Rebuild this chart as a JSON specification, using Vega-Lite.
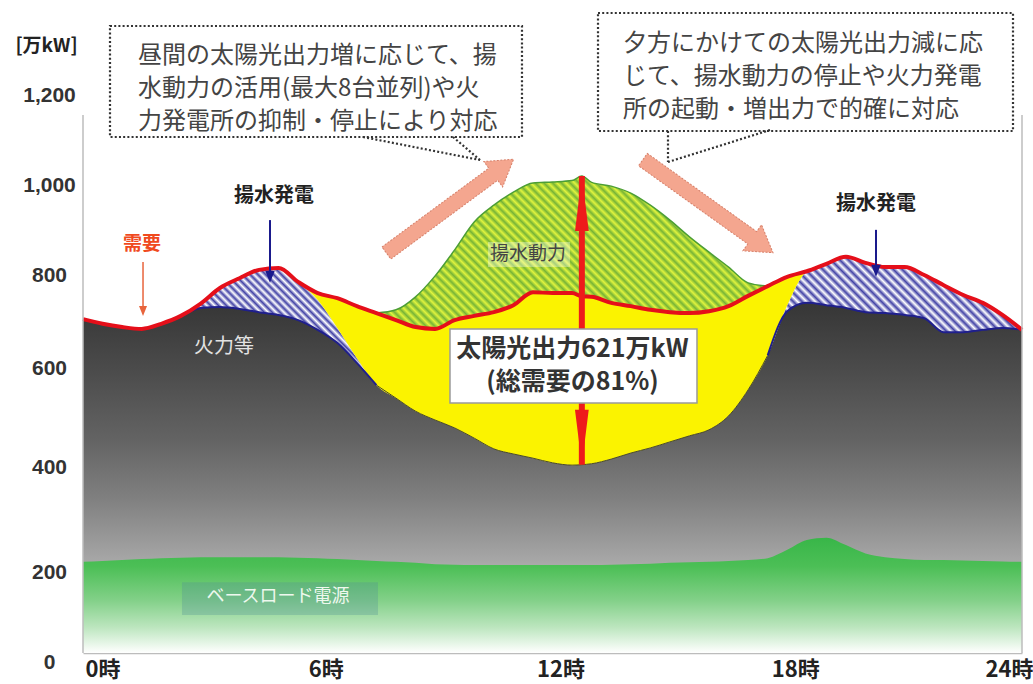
{
  "$schema": "https://vega.github.io/schema/vega-lite/v6.json",
  "width": 939,
  "height": 558,
  "autosize": {"type": "none"},
  "padding": {"left": 83, "top": 95, "right": 11, "bottom": 31},
  "background": "#ffffff",
  "config": {"view": {"stroke": null}, "font": "Noto Sans CJK JP"},
  "data": {
    "values": [
      {"h": 0, "base": 196, "thermal": 718, "pgen": 718, "demand": 718, "supply": 718},
      {"h": 0.5, "base": 198, "thermal": 708, "pgen": 708, "demand": 708, "supply": 708},
      {"h": 1, "base": 200, "thermal": 701, "pgen": 701, "demand": 701, "supply": 701},
      {"h": 1.5, "base": 202, "thermal": 697, "pgen": 697, "demand": 697, "supply": 697},
      {"h": 2, "base": 204, "thermal": 708, "pgen": 708, "demand": 708, "supply": 708},
      {"h": 2.5, "base": 205, "thermal": 725, "pgen": 725, "demand": 725, "supply": 725},
      {"h": 3, "base": 206, "thermal": 742, "pgen": 751, "demand": 751, "supply": 751},
      {"h": 3.5, "base": 206, "thermal": 744, "pgen": 785, "demand": 785, "supply": 785},
      {"h": 4, "base": 206, "thermal": 740, "pgen": 806, "demand": 806, "supply": 806},
      {"h": 4.5, "base": 206, "thermal": 733, "pgen": 824, "demand": 824, "supply": 824},
      {"h": 5, "base": 206, "thermal": 727, "pgen": 828, "demand": 828, "supply": 828},
      {"h": 5.5, "base": 205, "thermal": 716, "pgen": 798, "demand": 798, "supply": 798},
      {"h": 6, "base": 204, "thermal": 695, "pgen": 759, "demand": 774, "supply": 774},
      {"h": 6.5, "base": 202, "thermal": 667, "pgen": 699, "demand": 763, "supply": 763},
      {"h": 7, "base": 200, "thermal": 624, "pgen": 634, "demand": 746, "supply": 746},
      {"h": 7.5, "base": 198, "thermal": 576, "pgen": 576, "demand": 731, "supply": 731},
      {"h": 8, "base": 196, "thermal": 548, "pgen": 548, "demand": 716, "supply": 738},
      {"h": 8.5, "base": 194, "thermal": 520, "pgen": 520, "demand": 701, "supply": 766},
      {"h": 9, "base": 191, "thermal": 501, "pgen": 501, "demand": 697, "supply": 811},
      {"h": 9.5, "base": 190, "thermal": 484, "pgen": 484, "demand": 716, "supply": 867},
      {"h": 10, "base": 189, "thermal": 462, "pgen": 462, "demand": 725, "supply": 927},
      {"h": 10.5, "base": 189, "thermal": 439, "pgen": 439, "demand": 733, "supply": 963},
      {"h": 11, "base": 189, "thermal": 428, "pgen": 428, "demand": 748, "supply": 991},
      {"h": 11.5, "base": 189, "thermal": 419, "pgen": 419, "demand": 776, "supply": 1011},
      {"h": 12, "base": 189, "thermal": 409, "pgen": 409, "demand": 774, "supply": 1013},
      {"h": 12.5, "base": 189, "thermal": 404, "pgen": 404, "demand": 774, "supply": 1016},
      {"h": 12.75, "base": 189, "thermal": 405, "pgen": 405, "demand": 767, "supply": 1026},
      {"h": 13, "base": 189, "thermal": 407, "pgen": 407, "demand": 766, "supply": 1012},
      {"h": 13.5, "base": 190, "thermal": 417, "pgen": 417, "demand": 753, "supply": 1004},
      {"h": 14, "base": 191, "thermal": 430, "pgen": 430, "demand": 746, "supply": 989},
      {"h": 14.5, "base": 192, "thermal": 441, "pgen": 441, "demand": 738, "supply": 963},
      {"h": 15, "base": 194, "thermal": 454, "pgen": 454, "demand": 733, "supply": 931},
      {"h": 15.5, "base": 195, "thermal": 467, "pgen": 467, "demand": 731, "supply": 895},
      {"h": 16, "base": 196, "thermal": 480, "pgen": 480, "demand": 735, "supply": 862},
      {"h": 16.5, "base": 198, "thermal": 510, "pgen": 510, "demand": 746, "supply": 830},
      {"h": 17, "base": 200, "thermal": 566, "pgen": 566, "demand": 768, "supply": 796},
      {"h": 17.5, "base": 204, "thermal": 640, "pgen": 640, "demand": 789, "supply": 789},
      {"h": 18, "base": 222, "thermal": 735, "pgen": 748, "demand": 809, "supply": 809},
      {"h": 18.5, "base": 243, "thermal": 753, "pgen": 821, "demand": 821, "supply": 821},
      {"h": 19, "base": 248, "thermal": 748, "pgen": 837, "demand": 837, "supply": 837},
      {"h": 19.5, "base": 232, "thermal": 742, "pgen": 852, "demand": 852, "supply": 852},
      {"h": 20, "base": 214, "thermal": 733, "pgen": 839, "demand": 839, "supply": 839},
      {"h": 20.5, "base": 206, "thermal": 731, "pgen": 830, "demand": 830, "supply": 830},
      {"h": 21, "base": 202, "thermal": 727, "pgen": 830, "demand": 830, "supply": 830},
      {"h": 21.5, "base": 200, "thermal": 720, "pgen": 813, "demand": 813, "supply": 813},
      {"h": 22, "base": 200, "thermal": 690, "pgen": 791, "demand": 791, "supply": 791},
      {"h": 22.5, "base": 199, "thermal": 690, "pgen": 770, "demand": 770, "supply": 770},
      {"h": 23, "base": 198, "thermal": 695, "pgen": 753, "demand": 753, "supply": 753},
      {"h": 23.5, "base": 197, "thermal": 699, "pgen": 727, "demand": 727, "supply": 727},
      {"h": 24, "base": 196, "thermal": 695, "pgen": 695, "demand": 695, "supply": 695}
    ]
  },
  "layer": [
    {
      "mark": {
        "type": "area", "interpolate": "monotone",
        "color": {"gradient": "linear", "x1": 0, "y1": 0, "x2": 0, "y2": 1,
          "stops": [
            {"offset": 0, "color": "#363636"}, {"offset": 0.19, "color": "#4b4b4b"},
            {"offset": 0.39, "color": "#636363"}, {"offset": 0.56, "color": "#808080"},
            {"offset": 0.68, "color": "#9a9a9a"}, {"offset": 0.75, "color": "#aaaaaa"},
            {"offset": 1, "color": "#c4c4c4"}
          ]}
      },
      "encoding": {
        "x": {
          "field": "h", "type": "quantitative",
          "scale": {"domain": [0, 24], "nice": false, "zero": false},
          "axis": {
            "values": [0, 6, 12, 18, 24], "labelExpr": "datum.value + '時'", "title": null,
            "grid": false, "ticks": false, "domainColor": "#bcbcbc", "domainWidth": 1.5,
            "labelFont": "Noto Sans CJK JP", "labelFontSize": 22, "labelFontWeight": "bold",
            "labelColor": "#222222", "labelPadding": 6, "labelFlush": false,
            "labelAlign": {"condition": [{"test": "datum.value == 0", "value": "left"}, {"test": "datum.value == 24", "value": "right"}], "value": "center"},
            "labelOffset": {"condition": [{"test": "datum.value == 0", "value": 2}, {"test": "datum.value == 24", "value": 11}], "value": 8}
          }
        },
        "y": {
          "field": "thermal", "type": "quantitative",
          "scale": {"domain": [0, 1200], "nice": false},
          "axis": {
            "values": [0, 200, 400, 600, 800, 1000, 1200], "labelExpr": "format(datum.value, ',')",
            "title": "[万kW]", "titleAngle": 0, "titleX": -37, "titleY": -50,
            "titleAlign": "center", "titleBaseline": "middle", "titleFont": "Noto Sans CJK JP",
            "titleFontSize": 19, "titleFontWeight": "bold", "titleColor": "#222222",
            "grid": false, "ticks": false, "domain": false,
            "labelFont": "Liberation Sans", "labelFontSize": 21, "labelFontWeight": "bold",
            "labelColor": "#333333", "labelAlign": "center", "labelPadding": 34,
            "labelOffset": {"condition": [
              {"test": "datum.value == 200", "value": 12},
              {"test": "datum.value == 0", "value": 9},
              {"test": "datum.value == 600 || datum.value == 800", "value": -6},
              {"test": "datum.value == 1000", "value": -3}
            ], "value": 0}
          }
        },
        "y2": {"datum": 0}
      }
    },
    {
      "mark": {
        "type": "area", "interpolate": "monotone",
        "color": {"gradient": "linear", "x1": 0, "y1": 0, "x2": 0, "y2": 1,
          "stops": [
            {"offset": 0, "color": "#38b648"}, {"offset": 0.25, "color": "#4cbf56"},
            {"offset": 0.54, "color": "#82d088"}, {"offset": 0.78, "color": "#bde6bf"},
            {"offset": 1, "color": "#ffffff"}
          ]}
      },
      "encoding": {
        "x": {"field": "h", "type": "quantitative"},
        "y": {"field": "base", "type": "quantitative"},
        "y2": {"datum": 0}
      }
    },
    {
      "transform": [{"filter": "datum.h >= 2.5 && datum.h <= 7.5"}],
      "mark": {
        "type": "area", "interpolate": "monotone",
        "color": {"gradient": "linear", "x1": 0, "y1": 1, "x2": 1.177, "y2": 0.296,
          "stops": [
            {"offset":0,"color":"#4343a6"},{"offset":0.0125,"color":"#ffffff"},{"offset":0.025,"color":"#4343a6"},{"offset":0.0375,"color":"#ffffff"},
            {"offset":0.05,"color":"#4343a6"},{"offset":0.0625,"color":"#ffffff"},{"offset":0.075,"color":"#4343a6"},{"offset":0.0875,"color":"#ffffff"},
            {"offset":0.1,"color":"#4343a6"},{"offset":0.1125,"color":"#ffffff"},{"offset":0.125,"color":"#4343a6"},{"offset":0.1375,"color":"#ffffff"},
            {"offset":0.15,"color":"#4343a6"},{"offset":0.1625,"color":"#ffffff"},{"offset":0.175,"color":"#4343a6"},{"offset":0.1875,"color":"#ffffff"},
            {"offset":0.2,"color":"#4343a6"},{"offset":0.2125,"color":"#ffffff"},{"offset":0.225,"color":"#4343a6"},{"offset":0.2375,"color":"#ffffff"},
            {"offset":0.25,"color":"#4343a6"},{"offset":0.2625,"color":"#ffffff"},{"offset":0.275,"color":"#4343a6"},{"offset":0.2875,"color":"#ffffff"},
            {"offset":0.3,"color":"#4343a6"},{"offset":0.3125,"color":"#ffffff"},{"offset":0.325,"color":"#4343a6"},{"offset":0.3375,"color":"#ffffff"},
            {"offset":0.35,"color":"#4343a6"},{"offset":0.3625,"color":"#ffffff"},{"offset":0.375,"color":"#4343a6"},{"offset":0.3875,"color":"#ffffff"},
            {"offset":0.4,"color":"#4343a6"},{"offset":0.4125,"color":"#ffffff"},{"offset":0.425,"color":"#4343a6"},{"offset":0.4375,"color":"#ffffff"},
            {"offset":0.45,"color":"#4343a6"},{"offset":0.4625,"color":"#ffffff"},{"offset":0.475,"color":"#4343a6"},{"offset":0.4875,"color":"#ffffff"},
            {"offset":0.5,"color":"#4343a6"},{"offset":0.5125,"color":"#ffffff"},{"offset":0.525,"color":"#4343a6"},{"offset":0.5375,"color":"#ffffff"},
            {"offset":0.55,"color":"#4343a6"},{"offset":0.5625,"color":"#ffffff"},{"offset":0.575,"color":"#4343a6"},{"offset":0.5875,"color":"#ffffff"},
            {"offset":0.6,"color":"#4343a6"},{"offset":0.6125,"color":"#ffffff"},{"offset":0.625,"color":"#4343a6"},{"offset":0.6375,"color":"#ffffff"},
            {"offset":0.65,"color":"#4343a6"},{"offset":0.6625,"color":"#ffffff"},{"offset":0.675,"color":"#4343a6"},{"offset":0.6875,"color":"#ffffff"},
            {"offset":0.7,"color":"#4343a6"},{"offset":0.7125,"color":"#ffffff"},{"offset":0.725,"color":"#4343a6"},{"offset":0.7375,"color":"#ffffff"},
            {"offset":0.75,"color":"#4343a6"},{"offset":0.7625,"color":"#ffffff"},{"offset":0.775,"color":"#4343a6"},{"offset":0.7875,"color":"#ffffff"},
            {"offset":0.8,"color":"#4343a6"},{"offset":0.8125,"color":"#ffffff"},{"offset":0.825,"color":"#4343a6"},{"offset":0.8375,"color":"#ffffff"},
            {"offset":0.85,"color":"#4343a6"},{"offset":0.8625,"color":"#ffffff"},{"offset":0.875,"color":"#4343a6"},{"offset":0.8875,"color":"#ffffff"},
            {"offset":0.9,"color":"#4343a6"},{"offset":0.9125,"color":"#ffffff"},{"offset":0.925,"color":"#4343a6"},{"offset":0.9375,"color":"#ffffff"},
            {"offset":0.95,"color":"#4343a6"},{"offset":0.9625,"color":"#ffffff"},{"offset":0.975,"color":"#4343a6"},{"offset":0.9875,"color":"#ffffff"},
            {"offset":1,"color":"#4343a6"}
          ]}
      },
      "encoding": {
        "x": {"field": "h", "type": "quantitative"},
        "y": {"field": "pgen", "type": "quantitative"},
        "y2": {"field": "thermal"}
      }
    },
    {
      "transform": [{"filter": "datum.h >= 17.5"}],
      "mark": {
        "type": "area", "interpolate": "monotone",
        "color": {"gradient": "linear", "x1": 0, "y1": 1, "x2": 1.206, "y2": 0.532,
          "stops": [
            {"offset":0,"color":"#4343a6"},{"offset":0.0125,"color":"#ffffff"},{"offset":0.025,"color":"#4343a6"},{"offset":0.0375,"color":"#ffffff"},
            {"offset":0.05,"color":"#4343a6"},{"offset":0.0625,"color":"#ffffff"},{"offset":0.075,"color":"#4343a6"},{"offset":0.0875,"color":"#ffffff"},
            {"offset":0.1,"color":"#4343a6"},{"offset":0.1125,"color":"#ffffff"},{"offset":0.125,"color":"#4343a6"},{"offset":0.1375,"color":"#ffffff"},
            {"offset":0.15,"color":"#4343a6"},{"offset":0.1625,"color":"#ffffff"},{"offset":0.175,"color":"#4343a6"},{"offset":0.1875,"color":"#ffffff"},
            {"offset":0.2,"color":"#4343a6"},{"offset":0.2125,"color":"#ffffff"},{"offset":0.225,"color":"#4343a6"},{"offset":0.2375,"color":"#ffffff"},
            {"offset":0.25,"color":"#4343a6"},{"offset":0.2625,"color":"#ffffff"},{"offset":0.275,"color":"#4343a6"},{"offset":0.2875,"color":"#ffffff"},
            {"offset":0.3,"color":"#4343a6"},{"offset":0.3125,"color":"#ffffff"},{"offset":0.325,"color":"#4343a6"},{"offset":0.3375,"color":"#ffffff"},
            {"offset":0.35,"color":"#4343a6"},{"offset":0.3625,"color":"#ffffff"},{"offset":0.375,"color":"#4343a6"},{"offset":0.3875,"color":"#ffffff"},
            {"offset":0.4,"color":"#4343a6"},{"offset":0.4125,"color":"#ffffff"},{"offset":0.425,"color":"#4343a6"},{"offset":0.4375,"color":"#ffffff"},
            {"offset":0.45,"color":"#4343a6"},{"offset":0.4625,"color":"#ffffff"},{"offset":0.475,"color":"#4343a6"},{"offset":0.4875,"color":"#ffffff"},
            {"offset":0.5,"color":"#4343a6"},{"offset":0.5125,"color":"#ffffff"},{"offset":0.525,"color":"#4343a6"},{"offset":0.5375,"color":"#ffffff"},
            {"offset":0.55,"color":"#4343a6"},{"offset":0.5625,"color":"#ffffff"},{"offset":0.575,"color":"#4343a6"},{"offset":0.5875,"color":"#ffffff"},
            {"offset":0.6,"color":"#4343a6"},{"offset":0.6125,"color":"#ffffff"},{"offset":0.625,"color":"#4343a6"},{"offset":0.6375,"color":"#ffffff"},
            {"offset":0.65,"color":"#4343a6"},{"offset":0.6625,"color":"#ffffff"},{"offset":0.675,"color":"#4343a6"},{"offset":0.6875,"color":"#ffffff"},
            {"offset":0.7,"color":"#4343a6"},{"offset":0.7125,"color":"#ffffff"},{"offset":0.725,"color":"#4343a6"},{"offset":0.7375,"color":"#ffffff"},
            {"offset":0.75,"color":"#4343a6"},{"offset":0.7625,"color":"#ffffff"},{"offset":0.775,"color":"#4343a6"},{"offset":0.7875,"color":"#ffffff"},
            {"offset":0.8,"color":"#4343a6"},{"offset":0.8125,"color":"#ffffff"},{"offset":0.825,"color":"#4343a6"},{"offset":0.8375,"color":"#ffffff"},
            {"offset":0.85,"color":"#4343a6"},{"offset":0.8625,"color":"#ffffff"},{"offset":0.875,"color":"#4343a6"},{"offset":0.8875,"color":"#ffffff"},
            {"offset":0.9,"color":"#4343a6"},{"offset":0.9125,"color":"#ffffff"},{"offset":0.925,"color":"#4343a6"},{"offset":0.9375,"color":"#ffffff"},
            {"offset":0.95,"color":"#4343a6"},{"offset":0.9625,"color":"#ffffff"},{"offset":0.975,"color":"#4343a6"},{"offset":0.9875,"color":"#ffffff"},
            {"offset":1,"color":"#4343a6"}
          ]}
      },
      "encoding": {
        "x": {"field": "h", "type": "quantitative"},
        "y": {"field": "pgen", "type": "quantitative"},
        "y2": {"field": "thermal"}
      }
    },
    {
      "mark": {"type": "area", "interpolate": "monotone", "color": "#fbf300"},
      "encoding": {
        "x": {"field": "h", "type": "quantitative"},
        "y": {"field": "demand", "type": "quantitative"},
        "y2": {"field": "pgen"}
      }
    },
    {
      "transform": [{"filter": "datum.h >= 7.5 && datum.h <= 17.5"}],
      "mark": {
        "type": "area", "interpolate": "monotone",
        "color": {"gradient": "linear", "x1": 0, "y1": 1, "x2": 1.2065, "y2": 0.528,
          "stops": [
            {"offset":0,"color":"#76b436"},{"offset":0.008,"color":"#e0f43e"},{"offset":0.016,"color":"#76b436"},{"offset":0.024,"color":"#e0f43e"},
            {"offset":0.032,"color":"#76b436"},{"offset":0.04,"color":"#e0f43e"},{"offset":0.048,"color":"#76b436"},{"offset":0.056,"color":"#e0f43e"},
            {"offset":0.064,"color":"#76b436"},{"offset":0.072,"color":"#e0f43e"},{"offset":0.08,"color":"#76b436"},{"offset":0.088,"color":"#e0f43e"},
            {"offset":0.096,"color":"#76b436"},{"offset":0.104,"color":"#e0f43e"},{"offset":0.112,"color":"#76b436"},{"offset":0.12,"color":"#e0f43e"},
            {"offset":0.128,"color":"#76b436"},{"offset":0.136,"color":"#e0f43e"},{"offset":0.144,"color":"#76b436"},{"offset":0.152,"color":"#e0f43e"},
            {"offset":0.16,"color":"#76b436"},{"offset":0.168,"color":"#e0f43e"},{"offset":0.176,"color":"#76b436"},{"offset":0.184,"color":"#e0f43e"},
            {"offset":0.192,"color":"#76b436"},{"offset":0.2,"color":"#e0f43e"},{"offset":0.208,"color":"#76b436"},{"offset":0.216,"color":"#e0f43e"},
            {"offset":0.224,"color":"#76b436"},{"offset":0.232,"color":"#e0f43e"},{"offset":0.24,"color":"#76b436"},{"offset":0.248,"color":"#e0f43e"},
            {"offset":0.256,"color":"#76b436"},{"offset":0.264,"color":"#e0f43e"},{"offset":0.272,"color":"#76b436"},{"offset":0.28,"color":"#e0f43e"},
            {"offset":0.288,"color":"#76b436"},{"offset":0.296,"color":"#e0f43e"},{"offset":0.304,"color":"#76b436"},{"offset":0.312,"color":"#e0f43e"},
            {"offset":0.32,"color":"#76b436"},{"offset":0.328,"color":"#e0f43e"},{"offset":0.336,"color":"#76b436"},{"offset":0.344,"color":"#e0f43e"},
            {"offset":0.352,"color":"#76b436"},{"offset":0.36,"color":"#e0f43e"},{"offset":0.368,"color":"#76b436"},{"offset":0.376,"color":"#e0f43e"},
            {"offset":0.384,"color":"#76b436"},{"offset":0.392,"color":"#e0f43e"},{"offset":0.4,"color":"#76b436"},{"offset":0.408,"color":"#e0f43e"},
            {"offset":0.416,"color":"#76b436"},{"offset":0.424,"color":"#e0f43e"},{"offset":0.432,"color":"#76b436"},{"offset":0.44,"color":"#e0f43e"},
            {"offset":0.448,"color":"#76b436"},{"offset":0.456,"color":"#e0f43e"},{"offset":0.464,"color":"#76b436"},{"offset":0.472,"color":"#e0f43e"},
            {"offset":0.48,"color":"#76b436"},{"offset":0.488,"color":"#e0f43e"},{"offset":0.496,"color":"#76b436"},{"offset":0.504,"color":"#e0f43e"},
            {"offset":0.512,"color":"#76b436"},{"offset":0.52,"color":"#e0f43e"},{"offset":0.528,"color":"#76b436"},{"offset":0.536,"color":"#e0f43e"},
            {"offset":0.544,"color":"#76b436"},{"offset":0.552,"color":"#e0f43e"},{"offset":0.56,"color":"#76b436"},{"offset":0.568,"color":"#e0f43e"},
            {"offset":0.576,"color":"#76b436"},{"offset":0.584,"color":"#e0f43e"},{"offset":0.592,"color":"#76b436"},{"offset":0.6,"color":"#e0f43e"},
            {"offset":0.608,"color":"#76b436"},{"offset":0.616,"color":"#e0f43e"},{"offset":0.624,"color":"#76b436"},{"offset":0.632,"color":"#e0f43e"},
            {"offset":0.64,"color":"#76b436"},{"offset":0.648,"color":"#e0f43e"},{"offset":0.656,"color":"#76b436"},{"offset":0.664,"color":"#e0f43e"},
            {"offset":0.672,"color":"#76b436"},{"offset":0.68,"color":"#e0f43e"},{"offset":0.688,"color":"#76b436"},{"offset":0.696,"color":"#e0f43e"},
            {"offset":0.704,"color":"#76b436"},{"offset":0.712,"color":"#e0f43e"},{"offset":0.72,"color":"#76b436"},{"offset":0.728,"color":"#e0f43e"},
            {"offset":0.736,"color":"#76b436"},{"offset":0.744,"color":"#e0f43e"},{"offset":0.752,"color":"#76b436"},{"offset":0.76,"color":"#e0f43e"},
            {"offset":0.768,"color":"#76b436"},{"offset":0.776,"color":"#e0f43e"},{"offset":0.784,"color":"#76b436"},{"offset":0.792,"color":"#e0f43e"},
            {"offset":0.8,"color":"#76b436"},{"offset":0.808,"color":"#e0f43e"},{"offset":0.816,"color":"#76b436"},{"offset":0.824,"color":"#e0f43e"},
            {"offset":0.832,"color":"#76b436"},{"offset":0.84,"color":"#e0f43e"},{"offset":0.848,"color":"#76b436"},{"offset":0.856,"color":"#e0f43e"},
            {"offset":0.864,"color":"#76b436"},{"offset":0.872,"color":"#e0f43e"},{"offset":0.88,"color":"#76b436"},{"offset":0.888,"color":"#e0f43e"},
            {"offset":0.896,"color":"#76b436"},{"offset":0.904,"color":"#e0f43e"},{"offset":0.912,"color":"#76b436"},{"offset":0.92,"color":"#e0f43e"},
            {"offset":0.928,"color":"#76b436"},{"offset":0.936,"color":"#e0f43e"},{"offset":0.944,"color":"#76b436"},{"offset":0.952,"color":"#e0f43e"},
            {"offset":0.96,"color":"#76b436"},{"offset":0.968,"color":"#e0f43e"},{"offset":0.976,"color":"#76b436"},{"offset":0.984,"color":"#e0f43e"},
            {"offset":0.992,"color":"#76b436"},{"offset":1,"color":"#e0f43e"}
          ]}
      },
      "encoding": {
        "x": {"field": "h", "type": "quantitative"},
        "y": {"field": "supply", "type": "quantitative"},
        "y2": {"field": "demand"}
      }
    },
    {
      "transform": [{"filter": "datum.h >= 7.5 && datum.h <= 17.5"}],
      "mark": {"type": "line", "interpolate": "monotone", "color": "#4c9e35", "strokeWidth": 1.5},
      "encoding": {
        "x": {"field": "h", "type": "quantitative"},
        "y": {"field": "supply", "type": "quantitative"}
      }
    },
    {
      "transform": [{"filter": "datum.h >= 7.5 && datum.h <= 17.5"}],
      "mark": {"type": "line", "interpolate": "monotone", "color": "#4a4a28", "strokeWidth": 1},
      "encoding": {
        "x": {"field": "h", "type": "quantitative"},
        "y": {"field": "thermal", "type": "quantitative"}
      }
    },
    {
      "transform": [{"filter": "datum.h >= 2 && datum.h <= 7.5"}],
      "mark": {"type": "line", "interpolate": "monotone", "color": "#1f1f8c", "strokeWidth": 2},
      "encoding": {
        "x": {"field": "h", "type": "quantitative"},
        "y": {"field": "thermal", "type": "quantitative"}
      }
    },
    {
      "transform": [{"filter": "datum.h >= 17.5"}],
      "mark": {"type": "line", "interpolate": "monotone", "color": "#1f1f8c", "strokeWidth": 2},
      "encoding": {
        "x": {"field": "h", "type": "quantitative"},
        "y": {"field": "thermal", "type": "quantitative"}
      }
    },
    {
      "mark": {"type": "line", "interpolate": "monotone", "color": "#e50f1a", "strokeWidth": 4},
      "encoding": {
        "x": {"field": "h", "type": "quantitative"},
        "y": {"field": "demand", "type": "quantitative"}
      }
    },
    {
      "data": {"values": [{"edge": 0}, {"edge": 24}]},
      "mark": {"type": "rule", "color": "#bcbcbc", "strokeWidth": 1.5},
      "encoding": {
        "x": {"field": "edge", "type": "quantitative"},
        "y": {"datum": 0},
        "y2": {"datum": 1157}
      }
    },
    {
      "data": {"values": [{}]},
      "mark": {"type": "rect", "fill": "#ffffff", "stroke": "#333333", "strokeWidth": 2.2, "strokeDash": [2, 2.2]},
      "encoding": {
        "x": {"datum": 0.69}, "x2": {"datum": 11.22},
        "y": {"datum": 1348.4}, "y2": {"datum": 1109.7}
      }
    },
    {
      "data": {"values": [{}]},
      "mark": {"type": "rect", "fill": "#ffffff", "stroke": "#333333", "strokeWidth": 2.2, "strokeDash": [2, 2.2]},
      "encoding": {
        "x": {"datum": 13.163}, "x2": {"datum": 23.77},
        "y": {"datum": 1376.3}, "y2": {"datum": 1122.6}
      }
    },
    {
      "data": {"values": [{"x0": 7.157, "y0": 1109.7}, {"x0": 9.457, "y0": 1109.7}]},
      "mark": {"type": "rule", "color": "#333333", "strokeWidth": 2.2, "strokeDash": [2, 2.2]},
      "encoding": {
        "x": {"field": "x0", "type": "quantitative"}, "x2": {"datum": 10.147},
        "y": {"field": "y0", "type": "quantitative"}, "y2": {"datum": 1060.2}
      }
    },
    {
      "data": {"values": [{"x0": 14.952, "y0": 1122.6}, {"x0": 17.559, "y0": 1124.7}]},
      "mark": {"type": "rule", "color": "#333333", "strokeWidth": 2.2, "strokeDash": [2, 2.2]},
      "encoding": {
        "x": {"field": "x0", "type": "quantitative"}, "x2": {"datum": 14.952},
        "y": {"field": "y0", "type": "quantitative"}, "y2": {"datum": 1055.9}
      }
    },
    {
      "data": {"values": [
        {"line": "昼間の太陽光出力増に応じて、揚", "x0": 1.406, "y0": 1283.8},
        {"line": "水動力の活用(最大8台並列)や火", "x0": 1.406, "y0": 1212.9},
        {"line": "力発電所の抑制・停止により対応", "x0": 1.406, "y0": 1141.9},
        {"line": "夕方にかけての太陽光出力減に応", "x0": 13.802, "y0": 1309.7},
        {"line": "じて、揚水動力の停止や火力発電", "x0": 13.802, "y0": 1238.7},
        {"line": "所の起動・増出力で的確に対応", "x0": 13.802, "y0": 1167.7}
      ]},
      "mark": {"type": "text", "align": "left", "baseline": "middle", "fontSize": 24, "color": "#444444", "font": "Noto Sans CJK JP"},
      "encoding": {
        "x": {"field": "x0", "type": "quantitative"},
        "y": {"field": "y0", "type": "quantitative"},
        "text": {"field": "line"}
      }
    },
    {
      "data": {"values": [{}]},
      "mark": {"type": "point", "shape": "M -1 -0.095 L 0.68 -0.095 L 0.68 -0.2 L 1 0 L 0.68 0.2 L 0.68 0.095 L -1 0.095 Z",
        "size": 24964, "angle": 323.6, "filled": true, "fill": "#f4a68f", "stroke": "#d6806a", "strokeWidth": 1, "strokeDash": [2, 1.5], "opacity": 1},
      "encoding": {"x": {"datum": 9.38}, "y": {"datum": 961}}
    },
    {
      "data": {"values": [{}]},
      "mark": {"type": "point", "shape": "M -1 -0.095 L 0.68 -0.095 L 0.68 -0.2 L 1 0 L 0.68 0.2 L 0.68 0.095 L -1 0.095 Z",
        "size": 25600, "angle": 35.6, "filled": true, "fill": "#f4a68f", "stroke": "#d6806a", "strokeWidth": 1, "strokeDash": [2, 1.5], "opacity": 1},
      "encoding": {"x": {"datum": 15.974}, "y": {"datum": 961}}
    },
    {
      "data": {"values": [{}]},
      "mark": {"type": "rect", "fill": "#ffffff", "opacity": 0.35},
      "encoding": {
        "x": {"datum": 10.351}, "x2": {"datum": 12.447},
        "y": {"datum": 883.9}, "y2": {"datum": 830.1}
      }
    },
    {
      "data": {"values": [{}]},
      "mark": {"type": "text", "text": "揚水動力", "fontSize": 19, "color": "#444444", "font": "Noto Sans CJK JP", "baseline": "middle"},
      "encoding": {"x": {"datum": 11.374}, "y": {"datum": 858}}
    },
    {
      "transform": [{"filter": "datum.h == 12.75"}],
      "mark": {"type": "rule", "color": "#ee1b1b", "strokeWidth": 6},
      "encoding": {
        "x": {"field": "h", "type": "quantitative"},
        "y": {"field": "thermal", "type": "quantitative"},
        "y2": {"field": "supply"}
      }
    },
    {
      "transform": [{"filter": "datum.h == 12.75"}],
      "mark": {"type": "point", "shape": "M 0 0 L 0.25 2 L -0.25 2 Z", "size": 3025, "filled": true, "color": "#ee1b1b", "opacity": 1},
      "encoding": {
        "x": {"field": "h", "type": "quantitative"},
        "y": {"field": "supply", "type": "quantitative"}
      }
    },
    {
      "transform": [{"filter": "datum.h == 12.75"}],
      "mark": {"type": "point", "shape": "M 0 0 L 0.25 -2 L -0.25 -2 Z", "size": 3025, "filled": true, "color": "#ee1b1b", "opacity": 1},
      "encoding": {
        "x": {"field": "h", "type": "quantitative"},
        "y": {"field": "thermal", "type": "quantitative"}
      }
    },
    {
      "data": {"values": [{}]},
      "mark": {"type": "rect", "fill": "#ffffff", "stroke": "#9a9a9a", "strokeWidth": 1.5},
      "encoding": {
        "x": {"datum": 9.38}, "x2": {"datum": 15.693},
        "y": {"datum": 696.8}, "y2": {"datum": 537.6}
      }
    },
    {
      "data": {"values": [
        {"line": "太陽光出力621万kW", "y0": 654},
        {"line": "(総需要の81%)", "y0": 583}
      ]},
      "mark": {"type": "text", "fontSize": 25, "fontWeight": "bold", "color": "#333333", "font": "Noto Sans CJK JP", "baseline": "middle"},
      "encoding": {
        "x": {"datum": 12.51},
        "y": {"field": "y0", "type": "quantitative"},
        "text": {"field": "line"}
      }
    },
    {
      "data": {"values": [{"x0": 4.78, "top": 931, "tip": 805}, {"x0": 20.268, "top": 910, "tip": 815}]},
      "mark": {"type": "rule", "color": "#1a1a8c", "strokeWidth": 2},
      "encoding": {
        "x": {"field": "x0", "type": "quantitative"},
        "y": {"field": "top", "type": "quantitative"},
        "y2": {"field": "tip"}
      }
    },
    {
      "data": {"values": [{"x0": 4.78, "tip": 796}, {"x0": 20.268, "tip": 809}]},
      "mark": {"type": "point", "shape": "M 0 0 L 0.8 -2 L -0.8 -2 Z", "size": 144, "filled": true, "color": "#1a1a8c", "opacity": 1},
      "encoding": {
        "x": {"field": "x0", "type": "quantitative"},
        "y": {"field": "tip", "type": "quantitative"}
      }
    },
    {
      "data": {"values": [{}]},
      "mark": {"type": "rule", "color": "#e8643c", "strokeWidth": 1.5},
      "encoding": {"x": {"datum": 1.534}, "y": {"datum": 841}, "y2": {"datum": 735}}
    },
    {
      "data": {"values": [{}]},
      "mark": {"type": "point", "shape": "M 0 0 L 0.8 -2 L -0.8 -2 Z", "size": 100, "filled": true, "color": "#e8643c", "opacity": 1},
      "encoding": {"x": {"datum": 1.534}, "y": {"datum": 725}}
    },
    {
      "data": {"values": [{"x0": 4.882, "y0": 982.8}, {"x0": 20.268, "y0": 965.6}]},
      "mark": {"type": "text", "text": "揚水発電", "fontSize": 20, "fontWeight": "bold", "color": "#222222", "font": "Noto Sans CJK JP", "baseline": "middle"},
      "encoding": {
        "x": {"field": "x0", "type": "quantitative"},
        "y": {"field": "y0", "type": "quantitative"}
      }
    },
    {
      "data": {"values": [{}]},
      "mark": {"type": "text", "text": "需要", "fontSize": 19, "fontWeight": "bold", "color": "#f04a1e", "font": "Noto Sans CJK JP", "baseline": "middle"},
      "encoding": {"x": {"datum": 1.508}, "y": {"datum": 879.6}}
    },
    {
      "data": {"values": [{}]},
      "mark": {"type": "text", "text": "火力等", "fontSize": 20, "color": "#e2e2e2", "font": "Noto Sans CJK JP", "baseline": "middle"},
      "encoding": {"x": {"datum": 3.604}, "y": {"datum": 658}}
    },
    {
      "data": {"values": [{}]},
      "mark": {"type": "rect", "fill": "#4f8f96", "opacity": 0.3},
      "encoding": {
        "x": {"datum": 2.53}, "x2": {"datum": 7.54},
        "y": {"datum": 152.3}, "y2": {"datum": 81.7}
      }
    },
    {
      "data": {"values": [{}]},
      "mark": {"type": "text", "text": "ベースロード電源", "fontSize": 18, "color": "#eef8ee", "font": "Noto Sans CJK JP", "baseline": "middle"},
      "encoding": {"x": {"datum": 4.984}, "y": {"datum": 120.4}}
    }
  ]
}
